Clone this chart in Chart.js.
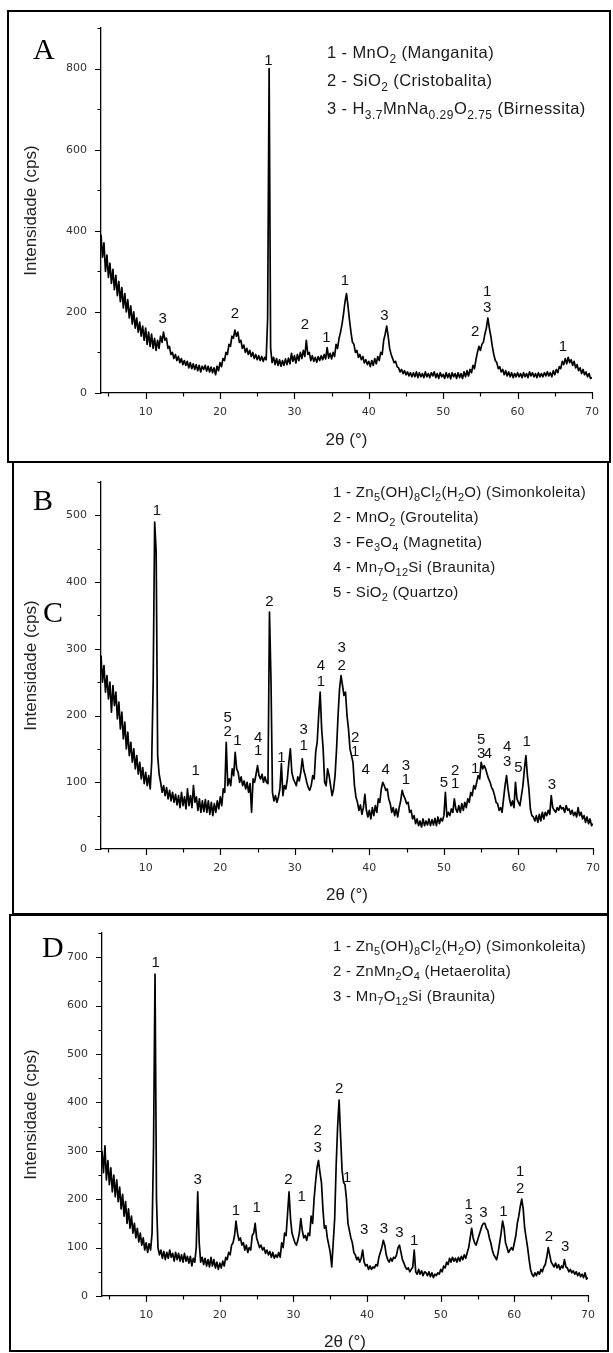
<!DOCTYPE html>
<html><head><meta charset="utf-8">
<script src="https://cdn.jsdelivr.net/npm/chart.js@4"></script>
<style>
html,body{margin:0;padding:0;background:#fff;}
#page{position:relative;width:613px;height:1353px;overflow:hidden;background:#fff;}
canvas{position:absolute;left:0;}
.box{position:absolute;border:2px solid #000;box-sizing:border-box;pointer-events:none;}
.letter{position:absolute;font-family:'Liberation Serif','Times New Roman',serif;font-size:30px;line-height:30px;color:#000;}
.legend{position:absolute;font-family:'Liberation Sans',Arial,sans-serif;font-size:15px;color:#1a1a1a;white-space:nowrap;letter-spacing:0.3px;}
.legend div{height:25px;line-height:25px;}
.legend.a{font-size:16.5px;letter-spacing:0.4px;}
.legend.a div{height:28px;line-height:28px;}
.legend sub{font-size:11px;vertical-align:-4px;line-height:0;letter-spacing:0.2px;}
.legend.a sub{font-size:12px;vertical-align:-5px;letter-spacing:0.5px;}
</style></head>
<body>
<div id="page">
<canvas id="cA" width="613" height="462" style="top:0px;width:613px;height:462px"></canvas>
<canvas id="cB" width="613" height="452" style="top:462px;width:613px;height:452px"></canvas>
<canvas id="cD" width="613" height="439" style="top:914px;width:613px;height:439px"></canvas>

<div class="box" style="left:7px;top:10px;width:604px;height:453px"></div>
<div class="box" style="left:12px;top:461px;width:597px;height:454px"></div>
<div class="box" style="left:9px;top:914px;width:600px;height:438px"></div>

<div class="letter" style="left:33px;top:34px">A</div>
<div class="letter" style="left:33px;top:485px">B</div>
<div class="letter" style="left:43px;top:597px">C</div>
<div class="letter" style="left:42px;top:932px">D</div>

<div class="legend a" style="left:327px;top:38px">
<div>1 - MnO<sub>2</sub> (Manganita)</div>
<div>2 - SiO<sub>2</sub> (Cristobalita)</div>
<div>3 - H<sub>3.7</sub>MnNa<sub>0.29</sub>O<sub>2.75</sub> (Birnessita)</div>
</div>
<div class="legend" style="left:333px;top:479px">
<div>1 - Zn<sub>5</sub>(OH)<sub>8</sub>Cl<sub>2</sub>(H<sub>2</sub>O) (Simonkoleita)</div>
<div>2 - MnO<sub>2</sub> (Groutelita)</div>
<div>3 - Fe<sub>3</sub>O<sub>4</sub> (Magnetita)</div>
<div>4 - Mn<sub>7</sub>O<sub>12</sub>Si (Braunita)</div>
<div>5 - SiO<sub>2</sub> (Quartzo)</div>
</div>
<div class="legend" style="left:333px;top:933px">
<div>1 - Zn<sub>5</sub>(OH)<sub>8</sub>Cl<sub>2</sub>(H<sub>2</sub>O) (Simonkoleita)</div>
<div>2 - ZnMn<sub>2</sub>O<sub>4</sub> (Hetaerolita)</div>
<div>3 - Mn<sub>7</sub>O<sub>12</sub>Si (Braunita)</div>
</div>
</div>

<script>
// Scan grid: 2θ from 4.0° to 70.0°, step 0.2°
const scanStart = 4.0;
const scanStep = 0.2;

// Intensity (cps), one value per 0.2° (rows = 2°)
const intensityA = [
390,335,370,300,340,285,320,270,305,255,
290,240,275,225,260,210,245,200,230,185,
215,170,200,160,185,150,175,140,165,130,
160,120,150,115,145,110,135,105,130,110,
140,125,150,130,135,110,115,95,100,85,
95,80,90,75,85,70,80,68,78,62,
75,60,72,58,70,55,68,52,66,58,
68,54,66,52,64,50,62,45,66,55,
75,65,85,80,100,95,120,115,140,135,
155,140,150,125,130,110,118,100,110,95,
105,90,100,85,95,82,92,80,90,78,
88,82,185,800,110,75,88,70,85,68,
82,66,80,68,84,70,86,72,98,78,
92,74,95,80,100,85,105,90,130,95,
100,80,92,78,88,76,90,80,92,82,
95,84,112,86,98,84,100,90,120,110,
135,150,170,195,225,245,215,180,150,125,
120,100,105,88,95,82,90,74,82,70,
78,65,80,68,85,72,90,80,100,95,
130,145,165,140,110,95,85,75,78,65,
62,52,58,48,55,45,52,42,50,40,
50,40,52,38,50,40,48,38,52,40,
48,38,50,42,52,38,48,36,50,40,
46,36,50,38,48,35,50,40,48,36,
50,38,48,36,52,40,55,42,58,50,
68,60,82,100,115,105,120,125,145,160,
185,160,140,115,95,80,75,60,65,52,
58,45,55,42,52,40,50,38,48,40,
50,40,48,38,50,40,48,38,52,42,
50,40,48,38,50,40,48,40,50,42,
52,42,50,40,55,45,58,50,65,60,
78,70,85,72,88,75,82,68,78,62,
70,55,62,48,58,45,52,40,48,36,
38];

const intensityB = [
290,250,275,235,260,225,250,205,245,215,
235,195,220,180,205,165,190,150,175,140,
160,130,150,120,140,112,130,105,122,98,
115,95,110,90,130,250,490,445,140,112,
100,85,95,80,92,75,88,72,85,70,
82,66,80,62,85,65,78,60,90,65,
80,62,95,70,78,58,75,55,72,56,
74,55,72,52,70,50,68,55,72,60,
78,65,90,85,160,95,105,95,120,110,
145,120,115,100,108,95,102,90,100,85,
98,55,105,100,112,125,110,105,112,100,
108,100,98,355,255,85,72,80,70,78,
90,128,80,95,90,105,130,150,115,105,
100,95,108,102,115,135,118,110,100,92,
88,95,110,105,145,160,200,235,180,150,
100,95,120,110,95,80,90,110,150,200,
240,260,245,230,235,200,180,150,140,130,
95,78,70,58,66,52,62,82,58,48,
58,45,62,50,65,55,75,70,90,100,
95,88,90,75,68,55,62,50,60,48,
62,72,88,80,75,68,70,55,58,45,
50,38,45,35,42,33,45,35,42,36,
45,35,44,36,46,35,48,38,46,42,
50,85,48,55,50,60,55,75,60,55,
65,55,68,58,70,62,75,70,85,80,
95,90,100,110,105,130,120,125,120,112,
105,100,92,88,80,70,68,58,62,55,
75,95,110,90,75,65,72,62,100,75,
70,65,80,95,120,140,110,90,60,50,
48,42,50,40,52,42,55,45,55,50,
58,52,80,62,58,55,62,58,65,60,
62,55,65,58,60,52,58,50,55,48,
62,50,55,45,50,40,48,38,45,35,
38];

const intensityD = [
300,255,310,240,280,230,265,215,250,205,
240,195,225,180,210,165,195,150,180,140,
165,130,150,120,140,112,130,105,120,95,
110,90,108,95,130,310,665,200,100,85,
95,78,92,75,90,78,95,80,88,72,
90,75,88,72,85,70,88,72,82,68,
82,62,78,70,100,215,110,70,80,65,
78,62,75,60,80,62,75,58,70,55,
68,58,72,62,80,75,90,85,105,110,
125,155,130,115,120,105,110,95,105,90,
100,95,125,130,150,120,110,100,105,95,
100,88,95,85,92,80,90,78,85,80,
90,80,110,100,130,125,170,215,160,130,
120,110,105,115,130,160,135,120,125,115,
130,125,165,150,200,235,265,280,255,235,
180,140,145,120,105,90,60,110,160,270,
350,405,330,260,235,230,200,150,135,120,
110,90,85,75,80,70,78,95,70,62,
65,55,62,55,60,58,65,62,80,90,
100,115,105,85,75,70,78,72,80,78,
85,100,105,90,75,68,60,55,58,50,
55,60,95,50,45,55,45,52,42,50,
48,42,50,40,48,38,45,42,48,45,
55,50,62,58,70,65,78,70,80,72,
78,70,80,72,82,75,85,78,90,100,
120,140,120,110,105,115,125,135,145,150,
150,140,135,120,110,95,85,80,75,90,
110,130,155,140,110,100,90,95,100,95,
110,125,150,165,185,200,180,140,120,100,
75,55,45,40,48,42,50,45,55,50,
60,65,80,100,85,70,65,60,68,58,
65,55,62,58,75,60,58,50,55,48,
52,45,50,42,48,40,45,38,48,35,
38];

// Phase labels above peaks: [2θ, intensity, label]
const peaksA = [
[12.3,182,'3'],[22.0,195,'2'],[26.5,818,'1'],[31.4,168,'2'],[34.3,137,'1'],
[36.8,276,'1'],[42.1,189,'3'],[54.3,150,'2'],[55.9,249,'1'],[55.9,210,'3'],[66.1,113,'1']];
const peaksB = [
[11.5,507,'1'],[16.7,117,'1'],[21.0,197,'5'],[21.0,175,'2'],[22.3,162,'1'],
[25.1,167,'4'],[25.1,147,'1'],[26.6,370,'2'],[28.2,137,'1'],[31.2,179,'3'],[31.2,155,'1'],
[33.5,275,'4'],[33.5,250,'1'],[36.3,301,'3'],[36.3,274,'2'],[38.1,166,'2'],[38.1,146,'1'],
[39.5,118,'4'],[42.2,118,'4'],[44.9,124,'3'],[44.9,104,'1'],[50.0,99,'5'],
[51.5,117,'2'],[51.5,97,'1'],[54.2,120,'1'],[55.0,163,'5'],[55.0,143,'3'],[55.9,143,'4'],
[58.5,153,'4'],[58.5,131,'3'],[60.0,121,'5'],[61.1,161,'1'],[64.5,96,'3']];
const peaksD = [
[11.3,688,'1'],[17.0,239,'3'],[22.2,176,'1'],[25.0,183,'1'],[29.3,239,'2'],[31.1,205,'1'],
[33.3,341,'2'],[33.3,307,'3'],[36.2,429,'2'],[37.3,245,'1'],[39.6,136,'3'],[42.3,138,'3'],
[44.4,130,'3'],[46.4,114,'1'],[53.8,188,'1'],[53.8,157,'3'],[55.8,172,'3'],[58.5,174,'1'],
[60.8,257,'1'],[60.8,221,'2'],[64.7,122,'2'],[66.9,101,'3']];

const xTitle = '2θ (°)';
const yTitle = 'Intensidade (cps)';

const decor = {
  id: 'xrdDecor',
  afterDraw(chart, args, o) {
    const {ctx, chartArea: ca, scales: {x, y}} = chart;
    ctx.save();
    ctx.strokeStyle = '#000';
    ctx.lineWidth = 1.2;
    ctx.beginPath();
    for (let v = o.xMinor; v <= x.max + 1e-9; v += o.xMinor) {
      const px = Math.round(x.getPixelForValue(v)) + 0.5;
      const major = Math.abs(v / o.xMajor - Math.round(v / o.xMajor)) < 1e-6;
      ctx.moveTo(px, ca.bottom);
      ctx.lineTo(px, ca.bottom + (major ? 6 : 3.5));
    }
    for (let v = 0; v <= y.max + 1e-9; v += o.yMinor) {
      const py = Math.round(y.getPixelForValue(v)) + 0.5;
      const major = Math.abs(v / o.yMajor - Math.round(v / o.yMajor)) < 1e-6;
      ctx.moveTo(ca.left, py);
      ctx.lineTo(ca.left - (major ? 6 : 3.5), py);
    }
    ctx.stroke();
    ctx.fillStyle = '#111';
    ctx.font = '15px "Liberation Sans", Arial, sans-serif';
    ctx.textAlign = 'center';
    ctx.textBaseline = 'middle';
    for (const [px, py, t] of o.peaks) {
      ctx.fillText(t, x.getPixelForValue(px), y.getPixelForValue(py));
    }
    ctx.restore();
  }
};

function makeChart(id, values, peaks, c) {
  const pts = values.map((v, i) => ({x: +(scanStart + i * scanStep).toFixed(1), y: v}));
  return new Chart(document.getElementById(id), {
    type: 'line',
    data: {datasets: [{data: pts, borderColor: '#000', borderWidth: 1.7, borderJoinStyle: 'round',
                       pointRadius: 0, tension: 0, fill: false}]},
    options: {
      responsive: false, animation: false, devicePixelRatio: 1,
      layout: {padding: {left: 0, right: c.padRight, top: c.padTop, bottom: 0}},
      plugins: {
        legend: {display: false}, tooltip: {enabled: false},
        xrdDecor: {peaks: peaks, xMinor: 5, xMajor: 10, yMinor: c.yStep / 2, yMajor: c.yStep}
      },
      scales: {
        x: {
          type: 'linear', min: 4, max: 70,
          afterFit: s => { s.height = c.xH; },
          border: {display: true, color: '#000', width: 1.3},
          grid: {display: true, drawOnChartArea: false, drawTicks: true, tickLength: 6, color: 'rgba(0,0,0,0)'},
          ticks: {stepSize: 10, includeBounds: false, padding: 7, color: '#333', maxRotation: 0, autoSkip: false,
                  font: {family: 'DejaVu Sans', size: 11}},
          title: {display: true, text: xTitle, color: '#222',
                  font: {family: 'Liberation Sans', size: 17, lineHeight: 1.2},
                  padding: {top: 0, bottom: c.xTitlePad}}
        },
        y: {
          type: 'linear', min: 0, max: c.yMax,
          afterFit: s => { s.width = c.yW; },
          border: {display: true, color: '#000', width: 1.3},
          grid: {display: true, drawOnChartArea: false, drawTicks: true, tickLength: 6, color: 'rgba(0,0,0,0)'},
          ticks: {stepSize: c.yStep, includeBounds: false, padding: 8, color: '#333', autoSkip: false,
                  font: {family: 'DejaVu Sans', size: 11}},
          title: {display: true, text: yTitle, color: '#222',
                  font: {family: 'Liberation Sans', size: 17, lineHeight: 1.2},
                  padding: {top: 21, bottom: 0}}
        }
      }
    },
    plugins: [decor]
  });
}

makeChart('cA', intensityA, peaksA, {padTop: 28, padRight: 21, xH: 69, yW: 101, yMax: 900, yStep: 200, xTitlePad: 11.8});
makeChart('cB', intensityB, peaksB, {padTop: 20, padRight: 20, xH: 65, yW: 101, yMax: 550, yStep: 100, xTitlePad: 8.8});
makeChart('cD', intensityD, peaksD, {padTop: 19, padRight: 25, xH: 57, yW: 102, yMax: 750, yStep: 100, xTitlePad: 0.8});
</script>
</body></html>
